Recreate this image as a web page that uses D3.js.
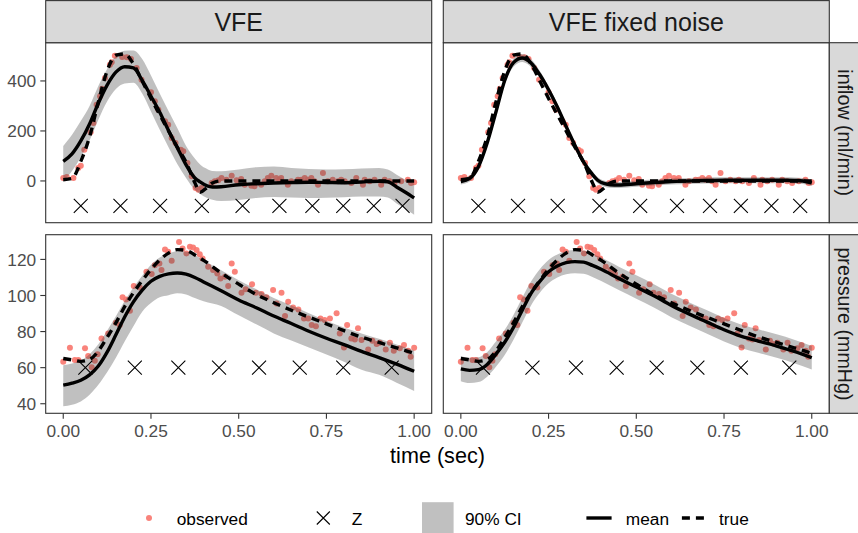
<!DOCTYPE html>
<html><head><meta charset="utf-8">
<script src="https://cdn.jsdelivr.net/npm/d3@7"></script>
<style>
html,body{margin:0;padding:0;background:#fff;}
svg{display:block;font-family:"Liberation Sans",Arial,Helvetica,sans-serif;}
</style></head>
<body><svg id="chart" width="858" height="533"></svg>
<script>
// ---------------- data ----------------
const columns = ["VFE", "VFE fixed noise"];
const rows = ["inflow (ml/min)", "pressure (mmHg)"];
const xTicks = [0, 0.25, 0.5, 0.75, 1];
const xTickLabels = ["0.00", "0.25", "0.50", "0.75", "1.00"];
const inflowTicks = [0, 200, 400];
const pressureTicks = [40, 60, 80, 100, 120];
const inflowLimits = [-167, 553];
const pressureLimits = [34.7, 133.7];

const tInflow = [0, 0.025, 0.05, 0.075, 0.1, 0.125, 0.15, 0.175, 0.2, 0.225, 0.25, 0.275, 0.3, 0.325, 0.35, 0.375, 0.39, 0.41, 0.425, 0.45, 0.5, 0.55, 0.6, 0.65, 0.7, 0.75, 0.8, 0.85, 0.9, 0.925, 0.95, 0.975, 1];
const inflowTrue = [5, 10, 78, 176, 316, 440, 503, 508, 468, 400, 330, 265, 200, 135, 75, -7, -45, -26, -8, 0, 0, 0, 0, 0, 0, 0, 0, 0, 0, 0, 0, 0, 0];
const inflowMeanVFE = [78, 108, 160, 228, 311, 383, 435, 457, 452, 402, 339, 275, 202, 133, 64, 12, -4, -20, -24, -23, -15, -11, -8, -6, -5, -6, -7, -4, -1, -3, -24, -45, -68];
const inflowLoVFE = [-2, 40, 95, 162, 245, 318, 368, 390, 393, 350, 278, 205, 135, 68, 12, -35, -52, -68, -75, -80, -76, -68, -64, -66, -68, -67, -65, -62, -62, -66, -90, -112, -135];
const inflowHiVFE = [140, 185, 240, 300, 380, 448, 500, 521, 522, 488, 422, 350, 280, 212, 140, 90, 66, 48, 40, 39, 46, 55, 58, 52, 48, 46, 47, 50, 52, 46, 25, 5, -10];
const inflowMeanFixed = [-2, 10, 57, 152, 276, 402, 473, 492, 472, 425, 365, 296, 218, 143, 75, 26, 3, -11, -15, -16, -11, -6, -2, 0, 2, 3, 3, 3, 3, 3, 2, 0, -8];
const inflowLoFixed = [-14, -2, 44, 138, 261, 387, 457, 476, 456, 410, 351, 282, 205, 130, 63, 14, -9, -23, -27, -28, -23, -18, -14, -12, -10, -9, -9, -9, -9, -9, -10, -12, -20];
const inflowHiFixed = [10, 22, 70, 166, 291, 417, 489, 508, 488, 440, 379, 310, 231, 156, 87, 38, 15, 1, -3, -4, 1, 6, 10, 12, 14, 15, 15, 15, 15, 15, 14, 12, 4];

const tPressure = [0, 0.025, 0.05, 0.075, 0.1, 0.125, 0.15, 0.175, 0.2, 0.225, 0.25, 0.275, 0.3, 0.325, 0.35, 0.375, 0.4, 0.45, 0.5, 0.55, 0.6, 0.65, 0.7, 0.75, 0.8, 0.85, 0.9, 0.95, 1];
const pressureTrue = [65.1, 64.3, 63.5, 64.5, 69.2, 76.8, 84.8, 93.8, 101.5, 108.3, 114.5, 119.7, 123.5, 125.4, 125.0, 122.5, 119.5, 112.5, 106.3, 100.6, 96.0, 91.8, 88.0, 84.3, 80.5, 76.9, 74.0, 71.0, 68.0];
const pressureMeanVFE = [50.3, 51.4, 53.0, 56.0, 60.9, 68.6, 78.2, 88.1, 96.5, 103.0, 107.9, 110.6, 112.0, 112.5, 111.8, 110.0, 107.5, 102.6, 97.5, 93.2, 88.6, 84.5, 80.2, 76.3, 72.8, 69.0, 65.6, 62.0, 58.0];
const pressureLoVFE = [38.6, 39.5, 41.3, 45.0, 50.5, 57.5, 65.5, 74.5, 83.0, 91.0, 95.8, 99.0, 100.2, 101.2, 100.6, 98.6, 96.8, 94.2, 89.0, 84.0, 79.0, 75.0, 71.2, 67.3, 63.3, 58.8, 56.0, 51.6, 47.0];
const pressureHiVFE = [61.3, 62.3, 64.0, 67.5, 73.0, 80.5, 88.5, 97.0, 104.5, 111.0, 117.0, 121.0, 123.3, 124.5, 124.2, 122.5, 119.5, 114.0, 108.5, 103.5, 98.6, 94.4, 90.2, 86.0, 82.3, 79.0, 76.0, 72.8, 69.5];
const pressureMeanFixed = [59.3, 58.5, 58.9, 61.8, 67.5, 74.1, 82.3, 91.9, 101.2, 107.8, 113.2, 116.3, 118.2, 118.8, 118.5, 116.7, 114.5, 109.5, 104.7, 99.8, 94.5, 89.8, 85.4, 81.0, 77.3, 74.6, 72.0, 69.0, 65.5];
const pressureLoFixed = [52.5, 51.5, 52.0, 55.0, 60.5, 67.0, 75.5, 85.0, 94.5, 101.5, 106.8, 110.0, 111.8, 112.3, 112.0, 110.3, 108.0, 103.0, 98.2, 93.3, 88.0, 83.3, 78.9, 74.5, 70.8, 68.1, 65.5, 62.5, 59.0];
const pressureHiFixed = [66.3, 65.5, 65.8, 68.6, 74.5, 81.0, 89.2, 98.7, 107.7, 114.6, 119.7, 122.7, 124.6, 125.2, 124.9, 123.1, 121.0, 116.0, 111.2, 106.3, 101.0, 96.3, 91.9, 87.5, 83.8, 81.1, 78.5, 75.5, 72.0];

const obsInflowT = [0.000, 0.010, 0.029, 0.043, 0.050, 0.060, 0.078, 0.086, 0.095, 0.105, 0.111, 0.119, 0.133, 0.138, 0.147, 0.168, 0.181, 0.193, 0.209, 0.223, 0.250, 0.261, 0.271, 0.290, 0.299, 0.309, 0.320, 0.335, 0.342, 0.354, 0.366, 0.377, 0.385, 0.394, 0.423, 0.432, 0.442, 0.451, 0.465, 0.480, 0.494, 0.507, 0.517, 0.536, 0.545, 0.564, 0.574, 0.583, 0.593, 0.607, 0.616, 0.621, 0.640, 0.650, 0.669, 0.678, 0.688, 0.697, 0.707, 0.716, 0.726, 0.740, 0.754, 0.768, 0.783, 0.792, 0.802, 0.821, 0.835, 0.854, 0.859, 0.873, 0.887, 0.906, 0.916, 0.930, 0.944, 0.963, 0.982, 0.991, 1.000];
const obsInflowV = [12, 16, 12, 52, 61, 125, 195, 232, 305, 339, 369, 412, 465, 475, 501, 496, 495, 488, 452, 405, 355, 319, 285, 239, 225, 172, 152, 125, 119, 72, 19, -28, -35, -28, -8, -1, 3, 12, 5, 21, 3, 8, -15, -19, -21, -15, -1, 12, 21, 12, 5, 12, -15, -1, 5, 5, 12, 5, 12, -1, -15, 32, -1, 5, -1, 5, -1, -8, 12, -15, 5, -1, 5, -15, 5, -1, -8, -1, 5, -8, -5];
const obsPressureT = [0, 0.019, 0.033, 0.043, 0.062, 0.071, 0.081, 0.090, 0.098, 0.109, 0.128, 0.150, 0.161, 0.169, 0.179, 0.190, 0.201, 0.218, 0.237, 0.252, 0.261, 0.274, 0.280, 0.290, 0.299, 0.309, 0.330, 0.340, 0.351, 0.361, 0.370, 0.380, 0.389, 0.397, 0.413, 0.427, 0.439, 0.448, 0.461, 0.470, 0.480, 0.489, 0.508, 0.520, 0.538, 0.549, 0.565, 0.579, 0.598, 0.608, 0.622, 0.632, 0.641, 0.655, 0.670, 0.686, 0.698, 0.708, 0.720, 0.733, 0.745, 0.760, 0.779, 0.788, 0.800, 0.809, 0.821, 0.831, 0.840, 0.850, 0.869, 0.881, 0.893, 0.902, 0.919, 0.931, 0.942, 0.959, 0.971, 0.983, 0.990, 1.000];
const obsPressureV = [63.3, 71.0, 64.2, 64.2, 70.7, 66.4, 60.2, 63.8, 67.5, 76.2, 79.0, 84.9, 83.6, 99.0, 97.8, 91.5, 105.2, 104.5, 113.2, 111.9, 116.8, 117.8, 114.1, 125.5, 124.2, 119.2, 129.6, 126.1, 123.3, 127.0, 126.6, 125.2, 122.9, 120.5, 115.9, 114.1, 112.2, 109.4, 110.4, 105.2, 117.8, 113.2, 101.5, 103.4, 106.3, 101.5, 100.8, 99.0, 103.0, 95.6, 101.5, 88.6, 96.5, 93.4, 92.3, 87.3, 87.3, 83.6, 83.0, 87.3, 86.4, 87.3, 90.1, 79.0, 71.2, 83.6, 76.2, 75.6, 81.8, 75.3, 70.1, 74.9, 73.1, 73.8, 70.1, 73.8, 69.4, 70.7, 72.5, 69.4, 66.1, 71.1];

const zInflowT = [0.05, 0.163, 0.276, 0.395, 0.511, 0.616, 0.71, 0.798, 0.885, 0.967];
const zInflowLevel = -100;
const zPressureT = [0.063, 0.204, 0.328, 0.444, 0.558, 0.674, 0.798, 0.936];
const zPressureLevel = 60;

const legendLabels = ["observed", "Z", "90% CI", "mean", "true"];

// ---------------- layout ----------------
const colX = [45.7, 443.3], panelW = 386;
const rowY = [[42.7, 222.7], [234.7, 413.3]];
const C = {
  border: "#333333", strip: "#D9D9D9", stripText: "#1A1A1A", axisText: "#4D4D4D",
  point: "#F8766D", ribbon: "#404040"
};
const FONT_TICK = 17.3;

const svg = d3.select("#chart");
svg.append("rect").attr("width", 858).attr("height", 533).attr("fill", "#fff");

const rowData = [
  { t: tInflow, truth: inflowTrue, limits: inflowLimits, ticks: inflowTicks,
    mean: [inflowMeanVFE, inflowMeanFixed], lo: [inflowLoVFE, inflowLoFixed], hi: [inflowHiVFE, inflowHiFixed],
    obsT: obsInflowT, obsV: obsInflowV, zT: zInflowT, zLevel: zInflowLevel },
  { t: tPressure, truth: pressureTrue, limits: pressureLimits, ticks: pressureTicks,
    mean: [pressureMeanVFE, pressureMeanFixed], lo: [pressureLoVFE, pressureLoFixed], hi: [pressureHiVFE, pressureHiFixed],
    obsT: obsPressureT, obsV: obsPressureV, zT: zPressureT, zLevel: zPressureLevel }
];

const defs = svg.append("defs");
function xMark(g, cx, cy, s) {
  g.append("path").attr("d", `M${cx - s},${cy - s}L${cx + s},${cy + s}M${cx - s},${cy + s}L${cx + s},${cy - s}`)
    .attr("stroke", "#000").attr("stroke-width", 1.1).attr("fill", "none");
}

rowData.forEach((rd, ri) => {
  const [y0, y1] = rowY[ri];
  const y = d3.scaleLinear().domain(rd.limits).range([y1, y0]);
  columns.forEach((colName, ci) => {
    const x0 = colX[ci];
    const x = d3.scaleLinear().domain([-0.05, 1.05]).range([x0, x0 + panelW]);
    const id = `clip${ri}${ci}`;
    defs.append("clipPath").attr("id", id).append("rect")
      .attr("x", x0).attr("y", y0).attr("width", panelW).attr("height", y1 - y0);
    const g = svg.append("g").attr("clip-path", `url(#${id})`);

    // observed points
    g.selectAll("circle.obs").data(rd.obsT.map((t, i) => [t, rd.obsV[i]])).join("circle")
      .attr("class", "obs").attr("cx", d => x(d[0])).attr("cy", d => y(d[1])).attr("r", 3)
      .attr("fill", C.point).attr("fill-opacity", 0.9);

    // ribbon
    const band = rd.t.map((t, i) => ({ t, lo: rd.lo[ci][i], hi: rd.hi[ci][i] }));
    g.append("path").datum(band)
      .attr("d", d3.area().x(d => x(d.t)).y0(d => y(d.lo)).y1(d => y(d.hi)).curve(d3.curveMonotoneX))
      .attr("fill", C.ribbon).attr("fill-opacity", 0.33);

    const line = d3.line().x(d => x(d[0])).y(d => y(d[1])).curve(d3.curveMonotoneX);
    // mean
    g.append("path").datum(rd.t.map((t, i) => [t, rd.mean[ci][i]])).attr("d", line)
      .attr("fill", "none").attr("stroke", "#000").attr("stroke-width", 3.4);
    // true
    g.append("path").datum(rd.t.map((t, i) => [t, rd.truth[i]])).attr("d", line)
      .attr("fill", "none").attr("stroke", "#000").attr("stroke-width", 3.4).attr("stroke-dasharray", "8,6");

    // Z
    rd.zT.forEach(t => xMark(g, x(t), y(rd.zLevel), 7));

    // panel border
    svg.append("rect").attr("x", x0).attr("y", y0).attr("width", panelW).attr("height", y1 - y0)
      .attr("fill", "none").attr("stroke", C.border).attr("stroke-width", 1.1);

    // y axis (left column only)
    if (ci === 0) {
      const ay = svg.append("g");
      rd.ticks.forEach(v => {
        ay.append("line").attr("x1", x0 - 5.4).attr("x2", x0).attr("y1", y(v)).attr("y2", y(v))
          .attr("stroke", C.border).attr("stroke-width", 1.1);
        ay.append("text").attr("x", x0 - 9.5).attr("y", y(v) + 6.2).attr("text-anchor", "end")
          .attr("font-size", FONT_TICK).attr("fill", C.axisText).text(v);
      });
    }
    // x axis (bottom row only)
    if (ri === 1) {
      const ax = svg.append("g");
      xTicks.forEach((v, i) => {
        ax.append("line").attr("x1", x(v)).attr("x2", x(v)).attr("y1", y1).attr("y2", y1 + 5.4)
          .attr("stroke", C.border).attr("stroke-width", 1.1);
        ax.append("text").attr("x", x(v)).attr("y", 437.3).attr("text-anchor", "middle")
          .attr("font-size", FONT_TICK).attr("fill", C.axisText).text(xTickLabels[i]);
      });
    }
    // top strips
    if (ri === 0) {
      svg.append("rect").attr("x", x0).attr("y", 0.6).attr("width", panelW).attr("height", y0 - 0.6)
        .attr("fill", C.strip).attr("stroke", C.border).attr("stroke-width", 1.1);
      svg.append("text").attr("x", x0 + panelW / 2).attr("y", 30.7).attr("text-anchor", "middle")
        .attr("font-size", 25).attr("fill", C.stripText).text(colName);
    }
  });
  // right strips
  const sx = colX[1] + panelW;
  svg.append("rect").attr("x", sx).attr("y", y0).attr("width", 40).attr("height", y1 - y0)
    .attr("fill", C.strip).attr("stroke", C.border).attr("stroke-width", 1.1);
  svg.append("text").attr("transform", `translate(${sx + 8.5},${(y0 + y1) / 2}) rotate(90)`)
    .attr("text-anchor", "middle").attr("font-size", 19.7).attr("fill", C.stripText).text(rows[ri]);
});

// axis title
svg.append("text").attr("x", (colX[0] + colX[1] + panelW) / 2).attr("y", 463.3).attr("text-anchor", "middle")
  .attr("font-size", 21.6).attr("fill", "#000").text("time (sec)");

// legend
const ly = 518;
const lg = svg.append("g").attr("font-size", 17.3).attr("fill", "#000");
const keyCenters = [149, 323.3, 437.8, 599, 694.5];
const textX = [176.7, 351.7, 465, 625.8, 719];
lg.append("circle").attr("cx", keyCenters[0]).attr("cy", ly).attr("r", 3).attr("fill", C.point).attr("fill-opacity", 0.9);
xMark(lg, keyCenters[1], ly, 6.5);
lg.append("rect").attr("x", keyCenters[2] - 15.8).attr("y", ly - 15.8).attr("width", 31.6).attr("height", 31.6)
  .attr("fill", C.ribbon).attr("fill-opacity", 0.33);
lg.append("line").attr("x1", keyCenters[3] - 12.6).attr("x2", keyCenters[3] + 12.6).attr("y1", ly).attr("y2", ly)
  .attr("stroke", "#000").attr("stroke-width", 3.4);
lg.append("line").attr("x1", keyCenters[4] - 12.6).attr("x2", keyCenters[4] + 12.6).attr("y1", ly).attr("y2", ly)
  .attr("stroke", "#000").attr("stroke-width", 3.4).attr("stroke-dasharray", "8,6");
legendLabels.forEach((l, i) => {
  lg.append("text").attr("x", textX[i]).attr("y", ly + 6.5).text(l);
});
</script></body></html>
